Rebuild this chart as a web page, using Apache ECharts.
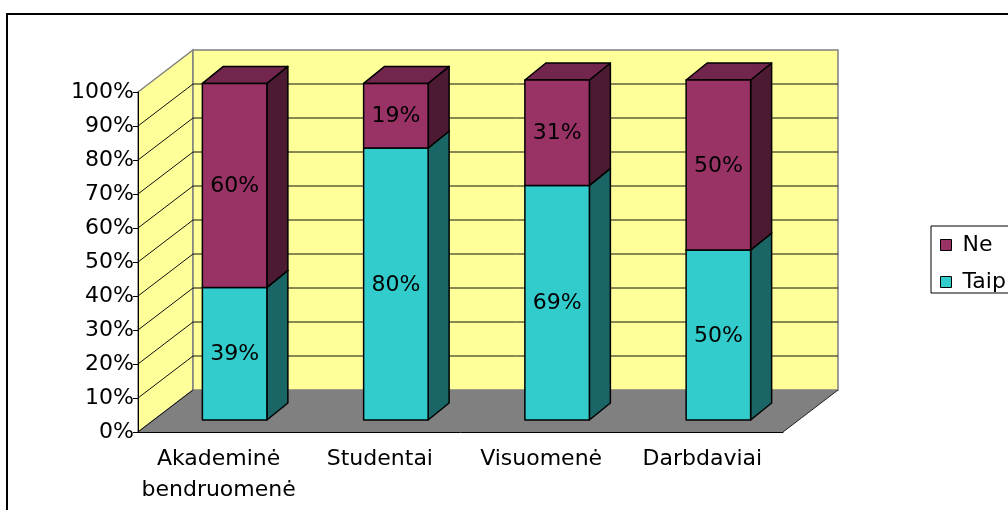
<!DOCTYPE html>
<html>
<head>
<meta charset="utf-8">
<script src="https://cdn.jsdelivr.net/npm/echarts@6/dist/echarts.min.js"></script>
<style>
html,body{margin:0;padding:0;background:#fff;}
#chart{width:1008px;height:510px;}
</style>
</head>
<body>
<div id="chart"></div>
<script>
// ---- data ----
const categories = ['Akademinė\nbendruomenė', 'Studentai', 'Visuomenė', 'Darbdaviai'];
const taip = [39, 80, 69, 50];
const ne = [60, 19, 31, 50];
const yTicks = [0, 10, 20, 30, 40, 50, 60, 70, 80, 90, 100];

// ---- styling / geometry ----
const FONT = "'DejaVu Sans', sans-serif";
const WALL_DX = 55, WALL_DY = -42;   // depth of the floor/walls
const BAR_DX = 16, BAR_DY = -12;     // bar front plane offset
const BAR_DEPTH_X = 21, BAR_DEPTH_Y = -17;
const BAR_RATIO = 0.4;

const palettes = {
  Taip: { front: '#33CCCC', top: '#269999', side: '#1A6666' },
  Ne:   { front: '#993366', top: '#73264D', side: '#4D1A33' }
};

const chart = echarts.init(document.getElementById('chart'));

function wallRender(params, api) {
  const cs = params.coordSys;
  const L = cs.x, R = cs.x + cs.width;
  const v = api.value(1);
  const y = api.coord([0, v])[1];
  const y0 = api.coord([0, 0])[1];
  const y100 = api.coord([0, 100])[1];
  const children = [];
  if (params.dataIndex === 0) {
    children.push({
      type: 'polygon',
      shape: { points: [[L, y0], [R, y0], [R + WALL_DX, y0 + WALL_DY], [L + WALL_DX, y0 + WALL_DY]] },
      style: { fill: '#808080', stroke: null }
    });
    children.push({
      type: 'polygon',
      shape: { points: [[L, y0], [L, y100], [L + WALL_DX, y100 + WALL_DY], [L + WALL_DX, y0 + WALL_DY]] },
      style: { fill: '#FFFF99', stroke: '#808080', lineWidth: 1.5 }
    });
    children.push({
      type: 'rect',
      shape: { x: L + WALL_DX, y: y100 + WALL_DY, width: R - L, height: y0 - y100 },
      style: { fill: '#FFFF99', stroke: '#808080', lineWidth: 1.5 }
    });
    children.push({
      type: 'line',
      shape: { x1: R, y1: y0, x2: R + WALL_DX, y2: y0 + WALL_DY },
      style: { stroke: '#222', lineWidth: 1 }
    });
  }
  if (v < 100) {
    children.push({
      type: 'line',
      shape: { x1: L, y1: y, x2: L + WALL_DX, y2: y + WALL_DY },
      style: { stroke: '#111', lineWidth: 1 }
    });
    if (v > 0) {
      children.push({
        type: 'line',
        shape: { x1: L + WALL_DX, y1: y + WALL_DY, x2: R + WALL_DX, y2: y + WALL_DY },
        style: { stroke: '#111', lineWidth: 1 }
      });
    }
  }
  return { type: 'group', children: children };
}

function makeBarRender(name) {
  const pal = palettes[name];
  return function (params, api) {
    const cat = api.value(0), start = api.value(1), end = api.value(2);
    const pBot = api.coord([cat, start]);
    const pTop = api.coord([cat, end]);
    const w = api.size([1, 0])[0] * BAR_RATIO;
    const x0 = pBot[0] - w / 2 + BAR_DX, x1 = x0 + w;
    const yb = pBot[1] + BAR_DY, yt = pTop[1] + BAR_DY;
    const dx = BAR_DEPTH_X, dy = BAR_DEPTH_Y;
    const edge = { stroke: '#000', lineWidth: 1.5, lineJoin: 'round' };
    return {
      type: 'group',
      children: [
        { type: 'polygon', shape: { points: [[x1, yb], [x1, yt], [x1 + dx, yt + dy], [x1 + dx, yb + dy]] },
          style: Object.assign({ fill: pal.side }, edge) },
        { type: 'polygon', shape: { points: [[x0, yt], [x1, yt], [x1 + dx, yt + dy], [x0 + dx, yt + dy]] },
          style: Object.assign({ fill: pal.top }, edge) },
        { type: 'rect', shape: { x: x0, y: yt, width: w, height: yb - yt },
          style: Object.assign({ fill: pal.front }, edge) },
        { type: 'text', style: { x: (x0 + x1) / 2, y: (yt + yb) / 2 + 1, text: Math.round(end - start) + '%',
          fill: '#000', fontSize: 22, fontFamily: FONT, align: 'center', verticalAlign: 'middle' } }
      ]
    };
  };
}

const taipData = categories.map((c, i) => [i, 0, taip[i]]);
const neData = categories.map((c, i) => [i, taip[i], taip[i] + ne[i]]);

chart.setOption({
  animation: false,
  backgroundColor: '#fff',
  grid: { left: 138, right: 225, top: 92, bottom: 78, containLabel: false },
  xAxis: {
    type: 'category', data: categories, z: 10,
    axisLine: { lineStyle: { color: '#000', width: 1 } },
    axisTick: { length: 6, lineStyle: { color: '#000' } },
    axisLabel: { color: '#000', fontSize: 22, fontFamily: FONT, lineHeight: 31, margin: 12, interval: 0 }
  },
  yAxis: {
    type: 'value', min: 0, max: 100, interval: 10, z: 10,
    axisLine: { show: true, lineStyle: { color: '#000', width: 1 } },
    axisTick: { show: true, length: 5, lineStyle: { color: '#000' } },
    axisLabel: { formatter: '{value}%', color: '#000', fontSize: 22, fontFamily: FONT, margin: 4 },
    splitLine: { show: false }
  },
  legend: {
    orient: 'vertical', left: 931, top: 226,
    borderColor: '#000', borderWidth: 1, backgroundColor: '#fff',
    padding: [8, 10, 0, 9], itemGap: 15, itemWidth: 11, itemHeight: 11,
    textStyle: { color: '#000', fontSize: 22, fontFamily: FONT, lineHeight: 22, padding: [0, 0, 0, 6] },
    data: [
      { name: 'Ne', icon: 'rect', itemStyle: { color: palettes.Ne.front, borderColor: '#000', borderWidth: 1 } },
      { name: 'Taip', icon: 'rect', itemStyle: { color: palettes.Taip.front, borderColor: '#000', borderWidth: 1 } }
    ]
  },
  graphic: [{
    type: 'rect', shape: { x: 7, y: 14, width: 1100, height: 600 },
    style: { fill: null, stroke: '#000', lineWidth: 2 }, silent: true, z: 100
  }],
  series: [
    { type: 'custom', name: 'walls', silent: true, clip: false, renderItem: wallRender,
      data: yTicks.map(v => [0, v]), z: 1 },
    { type: 'custom', name: 'Taip', clip: false, renderItem: makeBarRender('Taip'),
      itemStyle: { color: palettes.Taip.front }, data: taipData, z: 3 },
    { type: 'custom', name: 'Ne', clip: false, renderItem: makeBarRender('Ne'),
      itemStyle: { color: palettes.Ne.front }, data: neData, z: 4 }
  ]
});
</script>
</body>
</html>
